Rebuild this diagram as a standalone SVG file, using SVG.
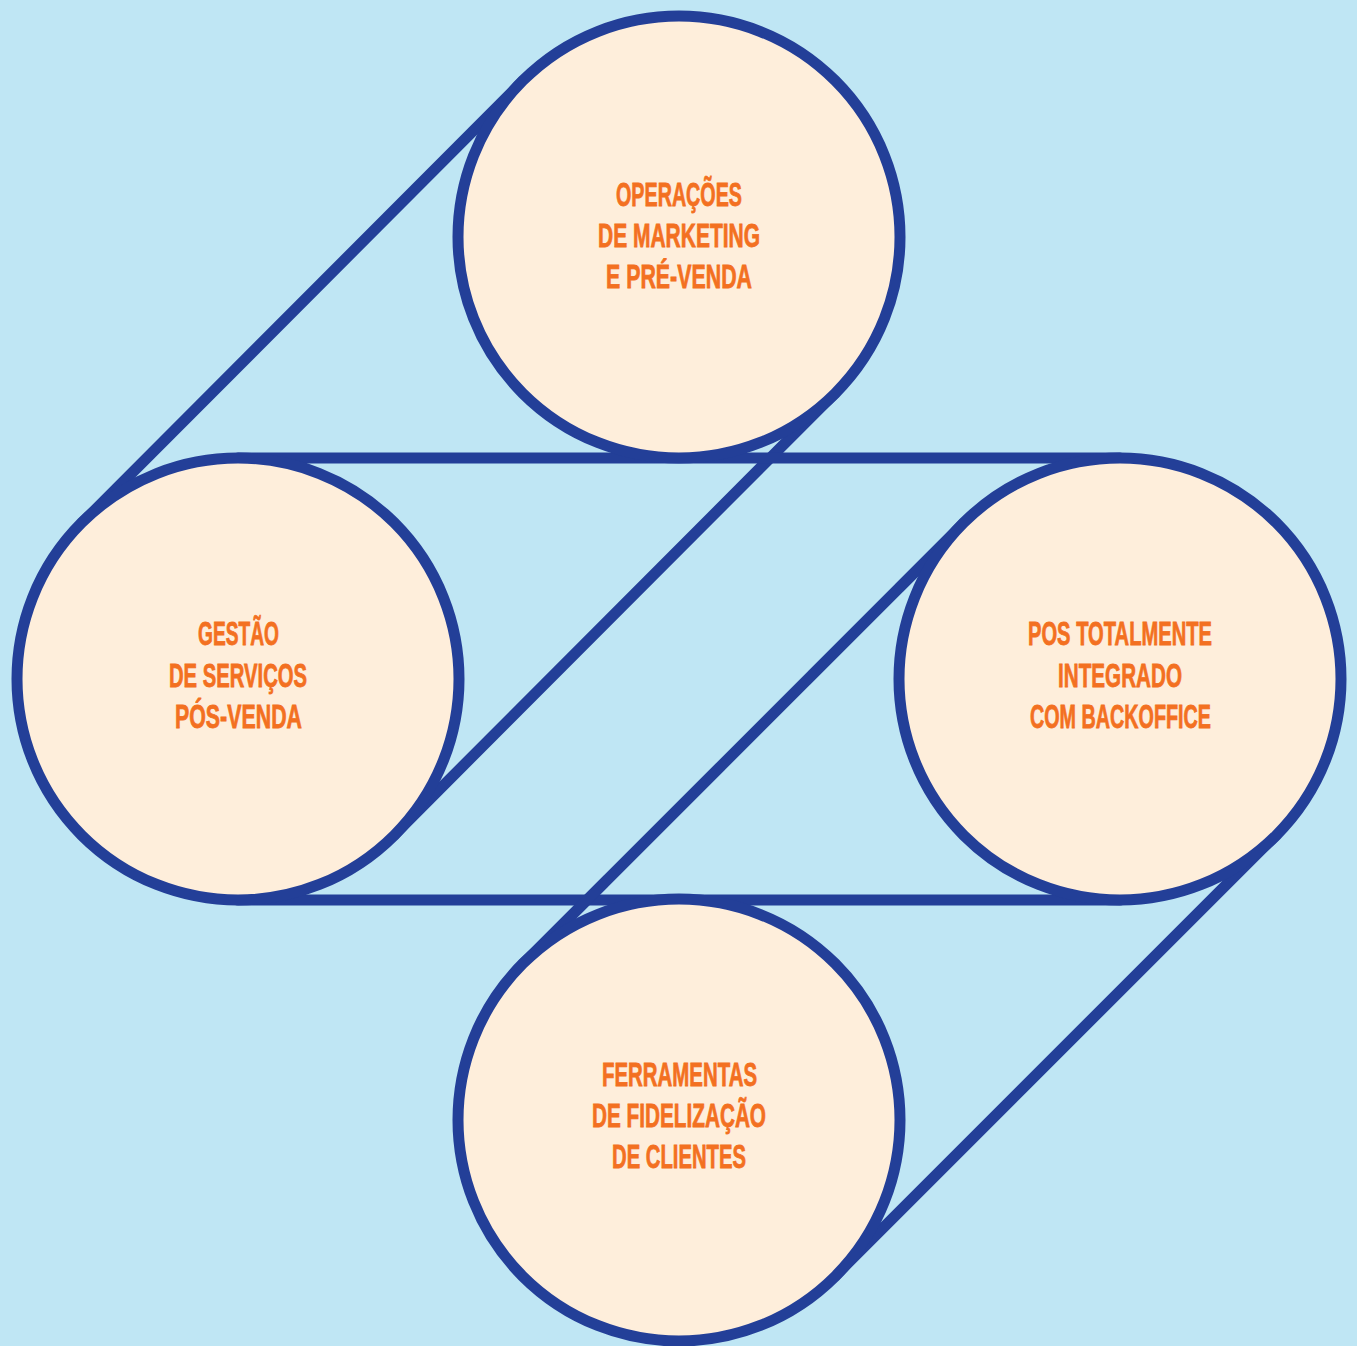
<svg xmlns="http://www.w3.org/2000/svg" width="1357" height="1346" viewBox="0 0 1357 1346">
<style>
.bg{fill:#bfe6f4}
.ln{stroke:#233f98;stroke-width:11;fill:none;stroke-linecap:round}
.c{fill:#feeedb;stroke:#233f98;stroke-width:11}
.t{font-family:"Liberation Sans",Arial,sans-serif;font-weight:bold;font-size:34px;fill:#f37021;stroke:#f37021;stroke-width:0.8}
</style>
<rect class="bg" x="0" y="0" width="1357" height="1346"/>
<g id="connectors">
<line class="ln" x1="523" y1="81" x2="82" y2="523"/>
<line class="ln" x1="835" y1="393" x2="394" y2="835"/>
<line class="ln" x1="238" y1="458" x2="1120" y2="458"/>
<line class="ln" x1="238" y1="900" x2="1120" y2="900"/>
<line class="ln" x1="964" y1="523" x2="523" y2="964"/>
<line class="ln" x1="1276" y1="835" x2="835" y2="1276"/>
</g>
<g id="node-top">
<circle class="c" cx="679" cy="237" r="221"/>
<text class="t" x="616" y="206" textLength="126" lengthAdjust="spacingAndGlyphs">OPERAÇÕES</text>
<text class="t" x="598" y="247" textLength="162" lengthAdjust="spacingAndGlyphs">DE MARKETING</text>
<text class="t" x="606" y="288" textLength="146" lengthAdjust="spacingAndGlyphs">E PRÉ-VENDA</text>
</g>
<g id="node-left">
<circle class="c" cx="238" cy="679" r="221"/>
<text class="t" x="198" y="645" textLength="81" lengthAdjust="spacingAndGlyphs">GESTÃO</text>
<text class="t" x="169" y="687" textLength="138" lengthAdjust="spacingAndGlyphs">DE SERVIÇOS</text>
<text class="t" x="175" y="728" textLength="127" lengthAdjust="spacingAndGlyphs">PÓS-VENDA</text>
</g>
<g id="node-right">
<circle class="c" cx="1120" cy="679" r="221"/>
<text class="t" x="1028" y="645" textLength="184" lengthAdjust="spacingAndGlyphs">POS TOTALMENTE</text>
<text class="t" x="1058" y="687" textLength="124" lengthAdjust="spacingAndGlyphs">INTEGRADO</text>
<text class="t" x="1030" y="728" textLength="181" lengthAdjust="spacingAndGlyphs">COM BACKOFFICE</text>
</g>
<g id="node-bottom">
<circle class="c" cx="679" cy="1120" r="221"/>
<text class="t" x="602" y="1086" textLength="155" lengthAdjust="spacingAndGlyphs">FERRAMENTAS</text>
<text class="t" x="592" y="1127" textLength="174" lengthAdjust="spacingAndGlyphs">DE FIDELIZAÇÃO</text>
<text class="t" x="612" y="1168" textLength="134" lengthAdjust="spacingAndGlyphs">DE CLIENTES</text>
</g>
</svg>
